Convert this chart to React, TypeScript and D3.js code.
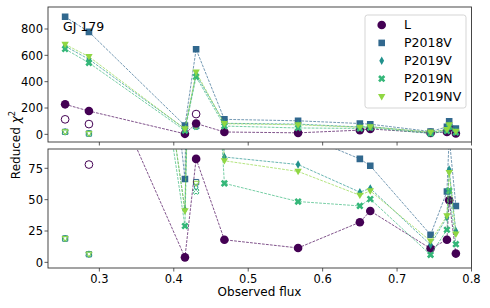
import React from "react";
import * as d3 from "d3";

// observed flux of each epoch (shared by all series)
const FLUX = [0.254, 0.286, 0.415, 0.43, 0.468, 0.567, 0.65, 0.664, 0.745, 0.767, 0.77, 0.779];

const SERIES = ["L", "P2018V", "P2019V", "P2019N", "P2019NV"];
const L_CHI = [228, 177, 4, 82.5, 18, 11.5, 32, 41, 11, 18, 49.5, 7];
const P2018V_CHI = [893, 778, 66.5, 646, 114, 103, 82.5, 77, 22, 56.5, 100, 45];
const P2019V_CHI = [670, 570, 42, 455, 84, 78, 56, 59, 14, 36, 74, 25];
const P2019N_CHI = [648, 543, 29, 437, 63, 48.5, 45, 50.5, 6, 26, 57, 14.5];
const P2019NV_CHI = [683, 590, 41, 472, 81, 72.5, 53.5, 57, 17, 37, 71.5, 22.5];

// hollow (excluded) points
const OPEN_FLUX = [0.254, 0.286, 0.43];
const OPEN_L = [114, 78, 154];
const OPEN_P2018V = [19, 6.5, 64];
const OPEN_P2019V = [19, 6.5, 60];
const OPEN_P2019N = [19, 6.5, 56.5];
const OPEN_P2019NV = [19, 6.5, 63];

const TOP_TICKS = [0, 200, 400, 600, 800];
const BOTTOM_TICKS = [0, 25, 50, 75];
const X_TICKS = [0.3, 0.4, 0.5, 0.6, 0.7, 0.8];

const COLORS = ["#440154", "#31688e", "#21918c", "#35b779", "#90d743"];
const FONT = "DejaVu Sans, sans-serif";

const values = [L_CHI, P2018V_CHI, P2019V_CHI, P2019N_CHI, P2019NV_CHI];
const openValues = [OPEN_L, OPEN_P2018V, OPEN_P2019V, OPEN_P2019N, OPEN_P2019NV];

const LEFT = 48, RIGHT = 471.5;
const x = d3.scaleLinear().domain([0.231, 0.8]).range([LEFT, RIGHT]);
const yTop = d3.scaleLinear().domain([-58, 967]).range([142, 7]);
const yBot = d3.scaleLinear().domain([-4.5, 90.4]).range([268, 149]);

// marker outlines, centred on 0,0
const markerPath = (i: number, k = 1) => {
  if (i === 0) {
    const r = 4.3 * k;
    return `M${r},0A${r},${r} 0 1,1 ${-r},0A${r},${r} 0 1,1 ${r},0Z`;
  }
  if (i === 1) {
    const h = 3.3 * k;
    return `M${-h},${-h}H${h}V${h}H${-h}Z`;
  }
  if (i === 2) return `M0,${-4.2 * k}L${2.4 * k},0L0,${4.2 * k}L${-2.4 * k},0Z`;
  if (i === 3) {
    const s = 3.8 * k, w = 1.3 * k;
    const pts = [[-w, -s], [w, -s], [w, -w], [s, -w], [s, w], [w, w], [w, s], [-w, s], [-w, w], [-s, w], [-s, -w], [-w, -w]];
    const c = Math.SQRT1_2;
    return "M" + pts.map(([a, b]) => `${(a * c - b * c).toFixed(2)},${(a * c + b * c).toFixed(2)}`).join("L") + "Z";
  }
  return `M${-3.7 * k},${-2.6 * k}L${3.7 * k},${-2.6 * k}L0,${3.8 * k}Z`;
};

function Panel({ y, ticks, top, bottom, id, labels }: any) {
  const line = d3.line<number>().x((_, j) => x(FLUX[j])).y((d) => y(d));
  return (
    <g>
      <defs>
        <clipPath id={id}>
          <rect x={LEFT} y={top} width={RIGHT - LEFT} height={bottom - top} />
        </clipPath>
      </defs>
      <g clipPath={`url(#${id})`}>
        {openValues.map((vals, i) =>
          vals.map((v, j) => (
            <path key={`o${i}-${j}`} d={markerPath(i === 0 ? 0 : i, i === 0 ? 0.9 : 0.8)}
              transform={`translate(${x(OPEN_FLUX[j])},${y(v)})`}
              fill={i === 0 ? "none" : "rgba(255,255,255,0.3)"} stroke={COLORS[i]} strokeWidth={1} />
          ))
        )}
        {values.map((vals, i) => (
          <g key={SERIES[i]}>
            <path d={line(vals) || ""} fill="none" stroke={COLORS[i]} strokeWidth={0.8}
              strokeDasharray="2.8,1.2" opacity={0.85} />
            {vals.map((v, j) => (
              <path key={j} d={markerPath(i)} transform={`translate(${x(FLUX[j])},${y(v)})`} fill={COLORS[i]} />
            ))}
          </g>
        ))}
      </g>
      <rect x={LEFT} y={top} width={RIGHT - LEFT} height={bottom - top} fill="none" stroke="#333" strokeWidth={0.9} />
      {ticks.map((t: number) => (
        <g key={t}>
          <line x1={LEFT - 3.5} x2={LEFT} y1={y(t)} y2={y(t)} stroke="#333" strokeWidth={0.8} />
          <text x={LEFT - 5} y={y(t) + 4.2} textAnchor="end" fontSize={11.5} fontFamily={FONT}>{t}</text>
        </g>
      ))}
      {X_TICKS.map((t) => (
        <g key={t}>
          <line x1={x(t)} x2={x(t)} y1={bottom} y2={bottom + 3.5} stroke="#333" strokeWidth={0.8} />
          {labels && (
            <text x={x(t)} y={bottom + 14.5} textAnchor="middle" fontSize={11.5} fontFamily={FONT}>{t.toFixed(1)}</text>
          )}
        </g>
      ))}
    </g>
  );
}

export default function App() {
  return (
    <svg width={490} height={308} style={{ position: "absolute", left: 0, top: 0, background: "#fff" }}>
      <Panel y={yTop} ticks={TOP_TICKS} top={7} bottom={142} id="clipTop" labels={false} />
      <Panel y={yBot} ticks={BOTTOM_TICKS} top={149} bottom={268} id="clipBot" labels={true} />
      <text x={63} y={30.5} fontSize={12.5} fontFamily={FONT}>GJ 179</text>
      <g>
        <rect x={365} y={15} width={101} height={93} rx={2.5} fill="#fff" fillOpacity={0.8} stroke="#d0d0d0" strokeWidth={0.9} />
        {SERIES.map((s, i) => (
          <g key={s} transform={`translate(0,${25 + i * 17.9})`}>
            <path d={markerPath(i)} transform="translate(381.7,0)" fill={COLORS[i]} />
            <text x={404} y={4.4} fontSize={12.5} fontFamily={FONT}>{s}</text>
          </g>
        ))}
      </g>
      <text transform="translate(19.5,145) rotate(-90)" textAnchor="middle" fontSize={12} fontFamily={FONT}>
        Reduced <tspan fontStyle="italic">χ</tspan><tspan fontSize={8.5} dy={-5}>2</tspan>
      </text>
      <text x={259.5} y={296} textAnchor="middle" fontSize={12} fontFamily={FONT}>Observed flux</text>
    </svg>
  );
}
